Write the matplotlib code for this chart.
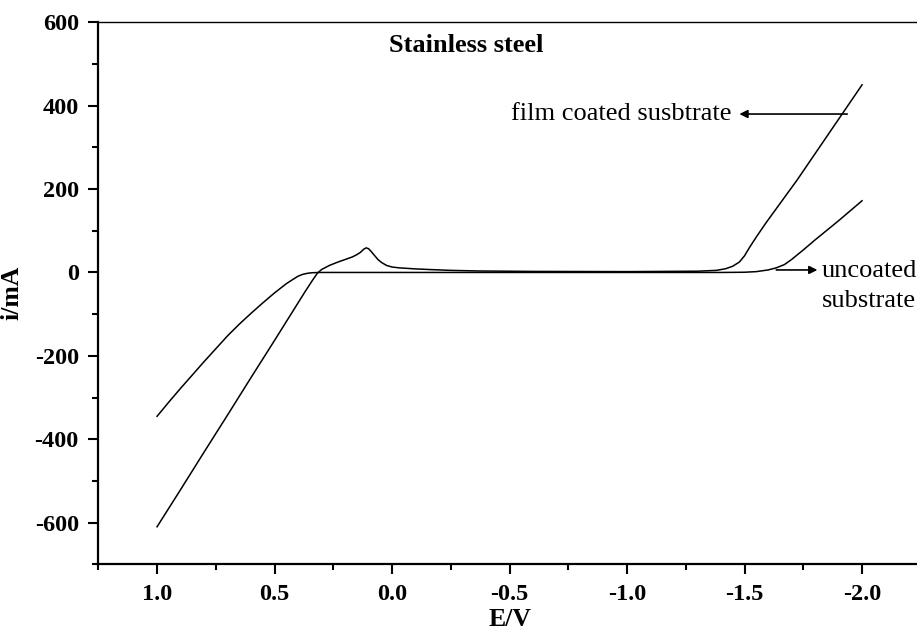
import matplotlib.pyplot as plt
from matplotlib.ticker import MultipleLocator

plt.rcParams['font.family'] = ['Liberation Serif', 'DejaVu Serif']

# uncoated substrate
unc_E = [1.0, 0.95, 0.9, 0.85, 0.8, 0.75, 0.7, 0.65, 0.6, 0.55, 0.5, 0.45,
         0.42, 0.4, 0.38, 0.36, 0.34, 0.31, 0.25, 0.0, -0.5, -1.0, -1.4,
         -1.5, -1.55, -1.6, -1.635, -1.67, -1.7, -1.75, -1.8, -1.85, -1.9,
         -1.95, -2.0]
unc_i = [-345, -311, -278, -246, -214, -183, -152, -124, -98, -73, -49, -27,
         -16, -9, -4.5, -2, -0.7, 0, 0, 0, 0, 0, 0,
         0.5, 2, 6, 11, 19, 31, 54, 78, 101, 124,
         148, 172]

# film coated substrate
coat_E = [1.0, 0.9, 0.8, 0.7, 0.6, 0.5, 0.45, 0.4, 0.37, 0.34, 0.318, 0.3,
          0.266, 0.23, 0.195, 0.17, 0.152, 0.135, 0.12, 0.11, 0.1, 0.09, 0.075,
          0.06, 0.045, 0.024, 0.0, -0.031, -0.1, -0.159, -0.25, -0.372, -0.6,
          -1.0, -1.3, -1.38, -1.42, -1.45, -1.478, -1.5, -1.52, -1.55, -1.59,
          -1.724, -2.0]
coat_i = [-610, -521, -431, -342, -252, -163, -118, -73, -46, -20, -2, 7,
          17, 25, 32, 37, 42, 48, 56, 59, 57, 51, 41,
          31, 24, 17, 13, 11, 8.5, 7, 5, 3.5, 2.5,
          2, 3, 5, 9, 15, 25, 40, 59, 85, 118,
          222, 450]

fig = plt.figure(figsize=(9.17, 6.35), dpi=100, facecolor='white')
ax = fig.add_axes([98.3 / 917, 1 - 564.3 / 635, 822.5 / 917, (564.3 - 22.3) / 635])

ax.plot(unc_E, unc_i, color='black', lw=1.1)
ax.plot(coat_E, coat_i, color='black', lw=1.1)

ax.set_xlim(1.25, -2.25)
ax.set_ylim(-700, 600)

ax.xaxis.set_minor_locator(MultipleLocator(0.25))
ax.yaxis.set_minor_locator(MultipleLocator(100))
ax.set_xticks([1.0, 0.5, 0.0, -0.5, -1.0, -1.5, -2.0])
ax.set_yticks([-600, -400, -200, 0, 200, 400, 600])
ax.set_xticklabels(['1.0', '0.5', '0.0', '-0.5', '-1.0', '-1.5', '-2.0'])
ax.set_yticklabels(['-600', '-400', '-200', '0', '200', '400', '600'])

ax.tick_params(which='major', direction='out', length=7, width=1.5,
               labelsize=17.5, pad=7)
ax.tick_params(which='minor', direction='out', length=4, width=1.5)
for lab in ax.get_xticklabels() + ax.get_yticklabels():
    lab.set_fontweight('bold')

for s in ['left', 'bottom']:
    ax.spines[s].set_linewidth(1.6)
ax.spines['top'].set_linewidth(1.0)
ax.spines['right'].set_visible(False)

ax.set_xlabel('E/V', fontsize=18.5, fontweight='bold', labelpad=2)
ax.set_ylabel('i/mA', fontsize=18.5, fontweight='bold', labelpad=8)

ax.text(-0.316, 545, 'Stainless steel', fontsize=19, fontweight='bold',
        ha='center', va='center')

ax.annotate('', xy=(-1.478, 380), xytext=(-1.937, 380),
            arrowprops=dict(arrowstyle='-|>', color='black', lw=1.2,
                            mutation_scale=12, shrinkA=0, shrinkB=0))
ax.text(-1.444, 380, 'film coated susbtrate', fontsize=19, ha='right', va='center')

ax.annotate('', xy=(-1.81, 6), xytext=(-1.635, 6),
            arrowprops=dict(arrowstyle='-|>', color='black', lw=1.2,
                            mutation_scale=12, shrinkA=0, shrinkB=0))
ax.text(-1.827, 4, 'uncoated', fontsize=19, ha='left', va='center')
ax.text(-1.827, -68, 'substrate', fontsize=19, ha='left', va='center')

fig.savefig('out.png', dpi=100)
